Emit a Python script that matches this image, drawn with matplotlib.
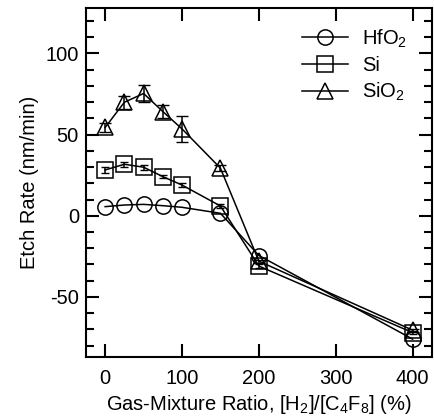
import matplotlib
matplotlib.use("Agg")
import matplotlib.pyplot as plt
from matplotlib.ticker import MultipleLocator

plt.rcParams["font.family"] = ["Liberation Sans", "DejaVu Sans"]
plt.rcParams["mathtext.default"] = "regular"
plt.rcParams["axes.unicode_minus"] = False

ratio = [0, 25, 50, 75, 100, 150, 200, 400]

hfo2 = [5.6, 6.6, 7.0, 6.2, 5.2, 1.5, -24.5, -76]
si = [28.2, 31.7, 29.9, 24.1, 18.9, 6.0, -31, -72]
si_err = [2, 1.5, 1.5, 1, 1, 1, 1, 1]
sio2 = [54.4, 69.9, 75.3, 64.2, 53.5, 29.3, -28, -70.5]
sio2_err = [3, 4, 5.5, 4, 8, 2, 1, 1]

fig = plt.figure(figsize=(4.34, 4.18), dpi=100)
ax = fig.add_axes([0.198, 0.146, 0.797, 0.835])

ms = 11
ax.errorbar(ratio, si, yerr=si_err, fmt="none", ecolor="black",
            elinewidth=1.1, capsize=3)
ax.errorbar(ratio, sio2, yerr=sio2_err, fmt="none", ecolor="black",
            elinewidth=1.1, capsize=4)
ax.plot(ratio, hfo2, color="black", lw=1.1, marker="o", ms=ms,
        mfc="none", mec="black", mew=1.1, label="HfO$_2$")
ax.plot(ratio, si, color="black", lw=1.1, marker="s", ms=ms,
        mfc="none", mec="black", mew=1.1, label="Si")
ax.plot(ratio, sio2, color="black", lw=1.1, marker="^", ms=ms + 1,
        mfc="none", mec="black", mew=1.1, label="SiO$_2$")

ax.set_xlim(-25, 425)
ax.set_ylim(-87, 128)
ax.xaxis.set_major_locator(MultipleLocator(100))
ax.yaxis.set_major_locator(MultipleLocator(50))
ax.yaxis.set_minor_locator(MultipleLocator(10))
ax.tick_params(which="both", direction="in", top=True, right=True,
               labelsize=14.5, width=1.5)
ax.tick_params(which="major", length=9.5)
ax.tick_params(axis="x", which="major", pad=9)
ax.tick_params(axis="y", which="major", pad=5)
ax.tick_params(which="minor", length=6)
for s in ax.spines.values():
    s.set_linewidth(1.5)

ax.set_xlabel("Gas-Mixture Ratio, [H$_2$]/[C$_4$F$_8$] (%)", fontsize=14.5,
              labelpad=3)
ax.set_ylabel("Etch Rate (nm/min)", fontsize=14.5, labelpad=5)

leg = ax.legend(loc="upper right", bbox_to_anchor=(0.97, 0.985),
                frameon=False, fontsize=14.5,
                handlelength=2.3, handletextpad=0.7, labelspacing=0.3,
                borderaxespad=0.3)

fig.savefig("out.png", dpi=100)
